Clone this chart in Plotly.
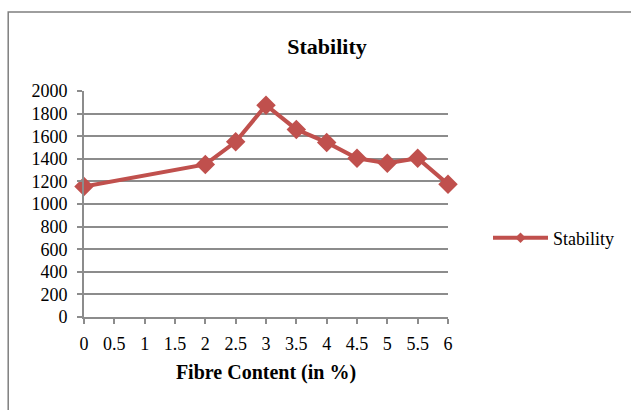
import plotly.graph_objects as go

# Stability measured against fibre content
fibre_content = [0, 2, 2.5, 3, 3.5, 4, 4.5, 5, 5.5, 6]
stability = [1155, 1350, 1550, 1875, 1660, 1545, 1405, 1360, 1405, 1175]

x_ticks = [0, 0.5, 1, 1.5, 2, 2.5, 3, 3.5, 4, 4.5, 5, 5.5, 6]
x_tick_text = ["0", "0.5", "1", "1.5", "2", "2.5", "3", "3.5", "4", "4.5", "5", "5.5", "6"]
y_ticks = list(range(0, 2001, 200))

RED = "#C0504D"
GRID = "#8C8C8C"
SERIF = "Liberation Serif"

fig = go.Figure()
fig.add_trace(go.Scatter(
    x=fibre_content,
    y=stability,
    mode="lines+markers",
    name="Stability",
    showlegend=False,
    line=dict(color=RED, width=4),
    marker=dict(symbol="diamond", size=15, color=RED),
    cliponaxis=False,
))
# Legend entry with a smaller marker
fig.add_trace(go.Scatter(
    x=[None],
    y=[None],
    mode="lines+markers",
    name="Stability",
    line=dict(color=RED, width=4),
    marker=dict(symbol="diamond", size=8, color=RED),
))

fig.update_layout(
    width=631,
    height=410,
    margin=dict(l=84, r=182, t=91, b=93),
    paper_bgcolor="white",
    plot_bgcolor="white",
    font=dict(family=SERIF, size=18, color="black"),
    title=dict(
        text="<b>Stability</b>",
        x=327 / 631,
        xanchor="center",
        y=1 - 46 / 410,
        yanchor="middle",
        font=dict(family=SERIF, size=22, color="black"),
    ),
    showlegend=True,
    legend=dict(
        x=(488 - 84) / 365,
        xanchor="left",
        y=(317 - 238) / 226,
        yanchor="middle",
        bgcolor="rgba(0,0,0,0)",
        font=dict(family=SERIF, size=18),
        itemwidth=55,
    ),
    xaxis=dict(
        range=[0, 6],
        tickmode="array",
        tickvals=x_ticks,
        ticktext=x_tick_text,
        showgrid=False,
        zeroline=False,
        showline=True,
        linecolor=GRID,
        linewidth=2,
        ticks="outside",
        ticklen=5,
        tickwidth=2,
        tickcolor=GRID,
        ticklabelstandoff=4,
        tickfont=dict(family=SERIF, size=18),
        title=dict(
            text="<b>Fibre Content (in %)</b>",
            font=dict(family=SERIF, size=20),
            standoff=12,
        ),
    ),
    yaxis=dict(
        range=[0, 2000],
        tickmode="array",
        tickvals=y_ticks,
        showgrid=True,
        gridcolor=GRID,
        gridwidth=1.5,
        zeroline=False,
        showline=True,
        linecolor=GRID,
        linewidth=2,
        ticks="outside",
        ticklen=5,
        tickwidth=2,
        tickcolor=GRID,
        ticklabelstandoff=6,
        tickfont=dict(family=SERIF, size=18),
    ),
)

# Chart area border
fig.add_shape(
    type="rect",
    xref="paper", yref="paper",
    x0=(8 - 84) / 365, x1=(640 - 84) / 365,
    y0=(317 - 420) / 226, y1=(317 - 12) / 226,
    line=dict(color="#7F7F7F", width=1.5),
    fillcolor="rgba(0,0,0,0)",
    layer="below",
)

fig.write_html("out.html")
